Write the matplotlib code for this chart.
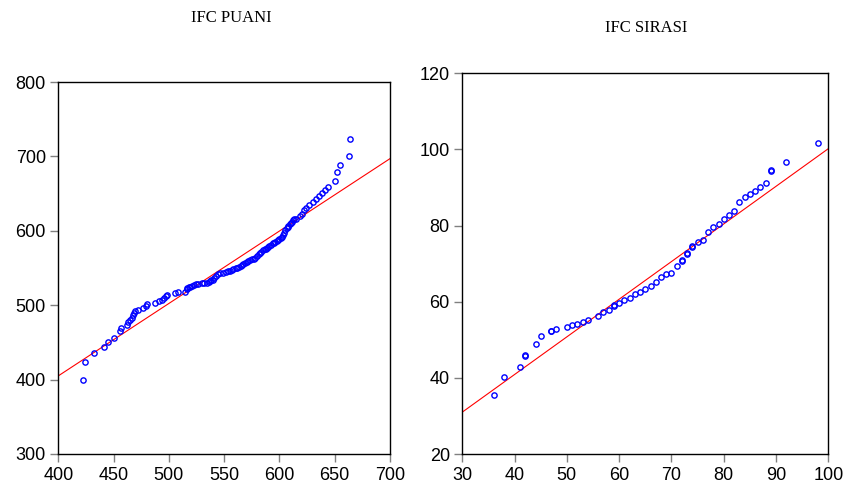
import matplotlib
matplotlib.use("Agg")
import matplotlib.pyplot as plt

# IFC PUANI: sample quantiles against normal reference
puan_x = [422.5, 424.6, 432.6, 441.5, 444.5, 450.4, 455.8, 457.0, 461.9, 463.3,
          464.8, 466.5, 467.8, 468.7, 469.7, 472.5, 476.3, 479.3, 480.5, 487.4,
          491.5, 493.8, 495.7, 497.4, 498.5, 505.3, 508.5, 514.3, 516.1, 516.8,
          518.2, 519.5, 520.9, 522.5, 524.3, 526.5, 530.2, 532.0, 534.2, 536.0,
          537.6, 538.5, 539.6, 541.0, 542.3, 544.7, 546.5, 548.7, 551.7, 553.5,
          555.3, 557.0, 558.3, 560.7, 562.0, 563.4, 565.0, 566.1, 567.5, 568.6,
          570.9, 572.0, 573.4, 575.0, 576.7, 578.0, 579.4, 581.2, 582.3, 583.3,
          585.4, 586.5, 587.6, 588.6, 589.7, 591.0, 592.1, 593.9, 594.8, 595.7,
          597.5, 598.5, 599.4, 601.2, 602.0, 603.0, 604.1, 605.3, 606.6, 607.3,
          608.0, 609.6, 610.3, 611.1, 612.5, 613.5, 615.0, 618.6, 620.4, 622.5,
          624.0, 626.5, 630.6, 633.1, 636.1, 638.8, 641.5, 643.9, 650.2, 652.3,
          654.8, 662.6, 663.5]
puan_y = [399.8, 423.7, 435.7, 444.0, 450.9, 456.5, 465.4, 469.4, 473.9, 476.8,
          479.9, 482.8, 486.5, 489.8, 492.2, 494.0, 495.6, 498.3, 502.0, 503.6,
          505.2, 507.5, 510.0, 512.5, 514.0, 516.6, 517.6, 518.3, 521.2, 522.5,
          524.0, 525.0, 525.8, 527.0, 528.1, 528.7, 529.4, 529.4, 529.4, 531.0,
          532.5, 533.2, 534.0, 536.5, 539.2, 541.5, 542.8, 543.8, 545.1, 545.8,
          546.5, 547.3, 548.2, 549.5, 550.5, 551.8, 553.0, 553.9, 555.0, 556.2,
          558.0, 559.3, 560.6, 561.5, 562.5, 564.0, 566.0, 569.2, 570.3, 571.3,
          574.0, 575.0, 575.9, 577.0, 578.0, 579.0, 580.3, 583.0, 583.8, 584.7,
          586.6, 587.5, 588.4, 590.6, 592.0, 593.7, 597.3, 600.8, 604.0, 605.5,
          607.1, 609.8, 611.0, 612.4, 615.1, 615.5, 616.0, 619.5, 623.2, 627.6,
          631.2, 634.3, 638.3, 642.8, 646.3, 650.9, 654.3, 658.9, 666.4, 679.0,
          688.4, 699.9, 723.6]
puan_line_x = [400, 700]
puan_line_y = [405, 697]

# IFC SIRASI: sample quantiles against normal reference
sira_x = [36, 38, 41, 42, 42, 44, 45, 47, 47, 48, 50, 51, 52, 53, 54, 56, 57, 58,
          59, 59, 60, 61, 62, 63, 64, 65, 66, 67, 68, 69, 70, 71, 72, 72, 73, 73,
          74, 74, 75, 76, 77, 78, 79, 80, 81, 82, 83, 84, 85, 86, 87, 88, 89, 89,
          92, 98]
sira_y = [35.4, 40.3, 42.8, 45.8, 46.1, 48.9, 51.1, 52.2, 52.4, 52.8, 53.3, 53.8,
          54.2, 54.7, 55.3, 56.3, 57.4, 57.7, 58.9, 59.2, 59.7, 60.5, 61.1, 62.0,
          62.6, 63.3, 64.1, 65.2, 66.4, 67.2, 67.6, 69.5, 70.8, 71.0, 72.5, 72.7,
          74.5, 74.7, 75.8, 76.3, 78.2, 79.6, 80.4, 81.6, 82.9, 83.9, 86.1, 87.4,
          88.2, 89.0, 90.2, 91.2, 94.3, 94.5, 96.8, 101.8]
sira_line_x = [30, 100]
sira_line_y = [31.0, 100.2]

puan_xticks = [400, 450, 500, 550, 600, 650, 700]
puan_yticks = [300, 400, 500, 600, 700, 800]
sira_xticks = [30, 40, 50, 60, 70, 80, 90, 100]
sira_yticks = [20, 40, 60, 80, 100, 120]

W, H = 846, 494
fig = plt.figure(figsize=(W / 100, H / 100), dpi=100)
fig.patch.set_facecolor("white")


def panel(rect, xs, ys, lx, ly, xt, yt, title, title_xy):
    ax = fig.add_axes(rect)
    ax.plot(lx, ly, color="red", lw=0.8, zorder=2)
    ax.plot(xs, ys, linestyle="none", marker="o", markersize=3.8,
            markerfacecolor="none", markeredgecolor="blue",
            markeredgewidth=1.0, zorder=3)
    ax.set_xlim(xt[0], xt[-1])
    ax.set_ylim(yt[0], yt[-1])
    ax.set_xticks(xt)
    ax.set_yticks(yt)
    ax.tick_params(axis="both", direction="out", length=6, width=1.0,
                   color="#808080", labelsize=13, pad=3)
    ax.tick_params(top=False, right=False)
    for s in ax.spines.values():
        s.set_linewidth(1.0)
        s.set_color("black")
    for lab in ax.get_xticklabels() + ax.get_yticklabels():
        lab.set_fontfamily("Liberation Sans")
    fig.text(title_xy[0] / W, 1 - title_xy[1] / H, title,
             family="Liberation Serif", fontsize=12,
             ha="center", va="center")
    return ax


panel([58.3 / W, 1 - 454 / H, 331.7 / W, (454 - 82) / H],
      puan_x, puan_y, puan_line_x, puan_line_y,
      puan_xticks, puan_yticks, "IFC PUANI", (231, 18))
panel([462.3 / W, 1 - 454 / H, 366 / W, (454 - 73.3) / H],
      sira_x, sira_y, sira_line_x, sira_line_y,
      sira_xticks, sira_yticks, "IFC SIRASI", (646, 28))

fig.savefig("out.png", dpi=100)
